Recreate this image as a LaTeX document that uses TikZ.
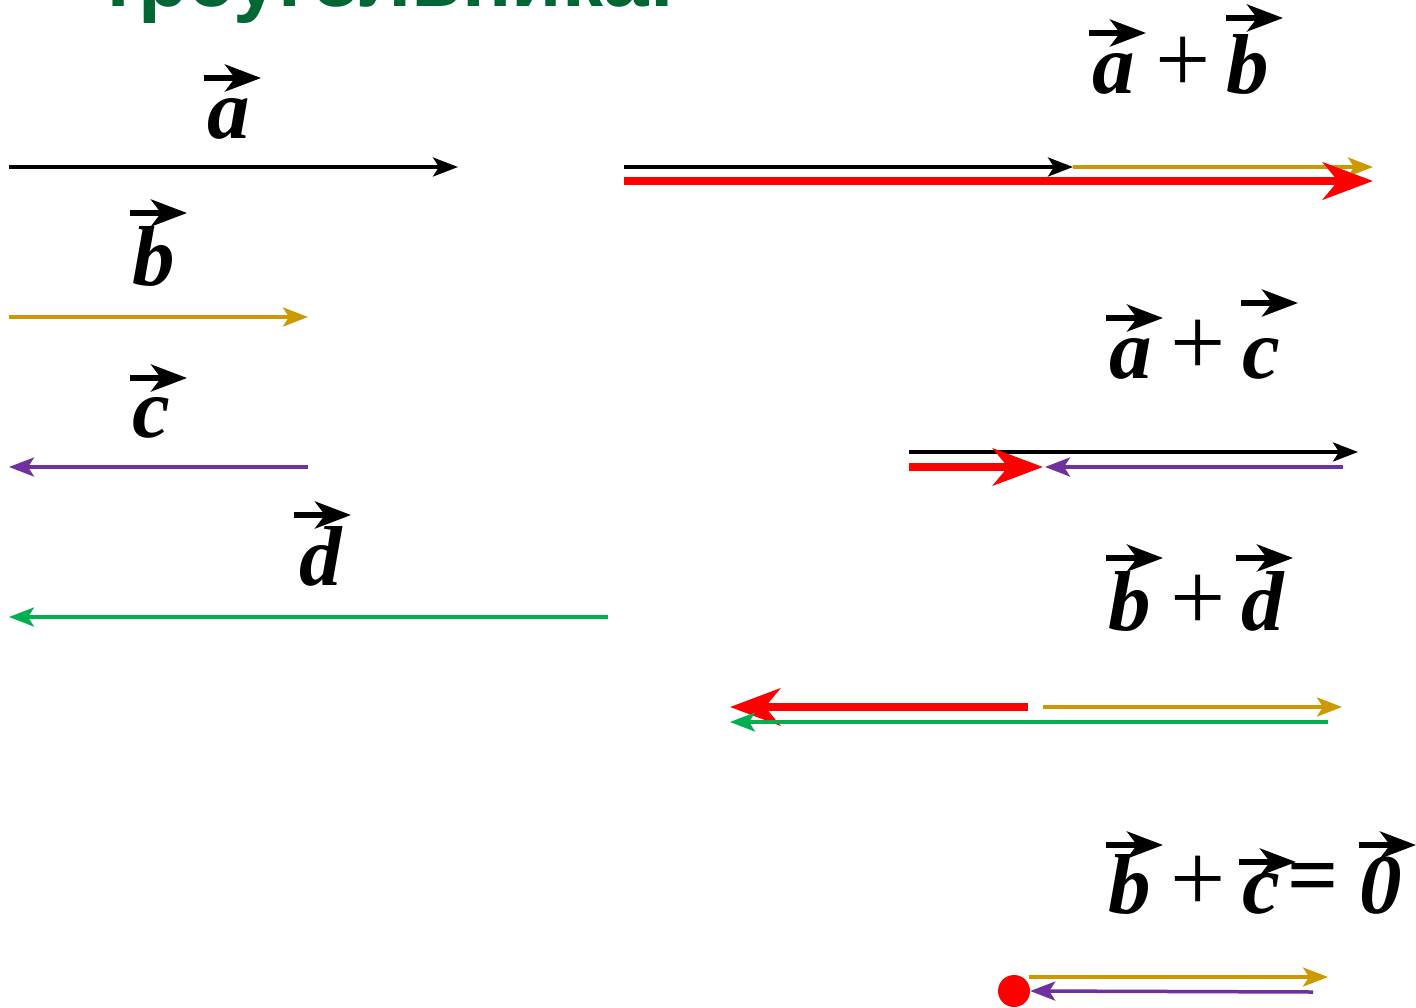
\documentclass[tikz,border=0pt]{standalone}
\usepackage{fontspec}
\setmainfont{Liberation Serif}
\newfontfamily\titlefont{Liberation Sans}
\usetikzlibrary{arrows.meta}
\definecolor{vgold}{RGB}{204,153,0}
\definecolor{vpurple}{RGB}{112,48,160}
\definecolor{vgreen}{RGB}{0,176,80}
\definecolor{vred}{RGB}{255,0,0}
\definecolor{tgreen}{RGB}{0,102,51}
\newcommand\vlab[6]{% name, x, y, text, rise, left offset
  \node[lab] (#1) at (#2,#3) {#4};
  \draw[varr] ([xshift=-#6pt,yshift=#5pt]#1.base) -- ([xshift=57pt-#6pt,yshift=#5pt]#1.base);}
\begin{document}
\begin{tikzpicture}[x=1pt,y=-1pt,
  vthin/.style={line width=3.5pt,-{Stealth[length=25pt,width=19pt,inset=6pt]}},
  vthick/.style={line width=8.5pt,-{Stealth[length=50pt,width=37pt,inset=15pt]}},
  lab/.style={inner sep=0pt,anchor=base,font=\fontsize{85}{90}\selectfont\bfseries\itshape},
  op/.style={inner sep=0pt,font=\fontsize{98}{100}\selectfont},
  varr/.style={line width=5.5pt,-{Stealth[length=36pt,width=27pt,inset=10pt]}},
]
\useasboundingbox (0,0) rectangle (1416,1007);
% title (cut off at the top)
\node[inner sep=0pt,anchor=base west,text=tgreen,font=\titlefont\fontsize{82}{90}\selectfont\bfseries] (title) at (98,6) {треугольника:};

% ---------- left column ----------
\vlab{la}{229}{138}{a}{60}{25}
\coordinate (a0) at (9,167); \coordinate (a1) at (458,167);
\draw[vthin,black] (a0) -- (a1);

\vlab{lb}{154}{285}{b}{72}{24}
\coordinate (b0) at (9,317); \coordinate (b1) at (308,317);
\draw[vthin,vgold] (b0) -- (b1);

\vlab{lc}{151}{437}{c}{59}{21}
\coordinate (c0) at (308,467); \coordinate (c1) at (9,467);
\draw[vthin,vpurple] (c0) -- (c1);

\vlab{ld}{321}{585}{d}{70}{27}
\coordinate (d0) at (608,617); \coordinate (d1) at (9,617);
\draw[vthin,vgreen] (d0) -- (d1);

% ---------- a + b ----------
\vlab{sa1}{1114}{93}{a}{60}{25}
\node[op] (p1) at (1183,65) {+};
\vlab{sb1}{1248}{93}{b}{75}{22}
\coordinate (s1a) at (624,167); \coordinate (s1b) at (1073,167); \coordinate (s1c) at (1373,167);
\draw[vthin,black] (s1a) -- (s1b);
\draw[vthin,vgold] (s1b) -- (s1c);
\coordinate (r1a) at (624,181); \coordinate (r1b) at (1373,181);
\draw[vthick,vred] (r1a) -- (r1b);

% ---------- a + c ----------
\vlab{sa2}{1131}{378}{a}{60}{25}
\node[op] (p2) at (1198,348) {+};
\vlab{sc2}{1261}{378}{c}{75}{20}
\coordinate (s2a) at (909,452); \coordinate (s2b) at (1358,452);
\draw[vthin,black] (s2a) -- (s2b);
\coordinate (r2a) at (909,467); \coordinate (r2b) at (1043,467);
\draw[vthick,vred] (r2a) -- (r2b);
\coordinate (q2a) at (1343,467); \coordinate (q2b) at (1045,467);
\draw[vthin,vpurple] (q2a) -- (q2b);

% ---------- b + d ----------
\vlab{sb3}{1130}{630}{b}{72}{24}
\node[op] (p3) at (1198,603) {+};
\vlab{sd3}{1263}{630}{d}{72}{27}
\coordinate (r3a) at (1028,707); \coordinate (r3b) at (730,707);
\draw[vthick,vred] (r3a) -- (r3b);
\coordinate (g3a) at (1043,707); \coordinate (g3b) at (1342,707);
\draw[vthin,vgold] (g3a) -- (g3b);
\coordinate (e3a) at (1328,722); \coordinate (e3b) at (730,722);
\draw[vthin,vgreen] (e3a) -- (e3b);

% ---------- b + c = 0 ----------
\vlab{sb4}{1130}{913}{b}{68}{24}
\node[op] (p4) at (1198,884) {+};
\vlab{sc4}{1261}{913}{c}{51}{22}
\node[op,font=\fontsize{90}{90}\selectfont\bfseries] (eq4) at (1313,884) {=};
\vlab{sz4}{1381}{913}{0}{68}{22}
\node[circle,fill=vred,inner sep=0pt,minimum size=32pt] (dot) at (1014,991) {};
\coordinate (g4a) at (1029,977); \coordinate (g4b) at (1328,977);
\draw[vthin,vgold] (g4a) -- (g4b);
\coordinate (q4a) at (1313,992);
\draw[vthin,vpurple] (q4a) -- (dot.east);
\end{tikzpicture}
\end{document}
